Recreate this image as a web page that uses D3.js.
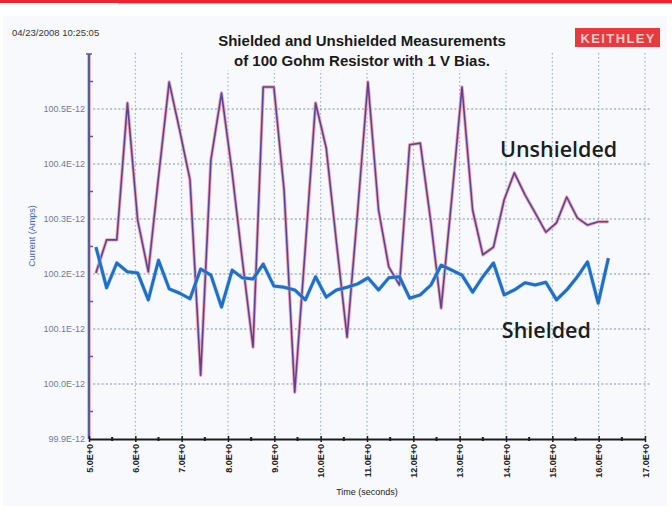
<!DOCTYPE html>
<html>
<head>
<meta charset="utf-8">
<script src="https://cdn.jsdelivr.net/npm/d3@7"></script>
<style>
  html, body { margin: 0; padding: 0; background: #ffffff; }
  svg { display: block; }
</style>
</head>
<body>
<div id="chart"></div>
<script>
// Sample times (seconds)
const times = [5.15, 5.38, 5.60, 5.83, 6.05, 6.28, 6.50, 6.73, 6.96, 7.18,
  7.41, 7.63, 7.86, 8.09, 8.31, 8.54, 8.76, 8.99, 9.21, 9.44,
  9.67, 9.89, 10.12, 10.34, 10.57, 10.80, 11.02, 11.25, 11.47, 11.70,
  11.92, 12.15, 12.38, 12.60, 12.83, 13.05, 13.28, 13.50, 13.73, 13.96,
  14.18, 14.41, 14.63, 14.86, 15.09, 15.31, 15.54, 15.76, 15.99, 16.21];

// Current in units of 1E-12 A
const unshielded = [100.202, 100.262, 100.262, 100.511, 100.298, 100.204, 100.376, 100.549, 100.460, 100.371,
  100.016, 100.407, 100.529, 100.384, 100.225, 100.067, 100.540, 100.540, 100.353, 99.985,
  100.249, 100.511, 100.429, 100.258, 100.085, 100.316, 100.549, 100.316, 100.213, 100.180,
  100.435, 100.438, 100.293, 100.138, 100.338, 100.540, 100.316, 100.235, 100.249, 100.335,
  100.384, 100.344, 100.311, 100.276, 100.293, 100.340, 100.302, 100.289, 100.295, 100.295];

const shielded = [100.249, 100.175, 100.220, 100.204, 100.202, 100.153, 100.225, 100.173, 100.165, 100.155,
  100.209, 100.198, 100.140, 100.207, 100.193, 100.191, 100.218, 100.178, 100.176, 100.171,
  100.153, 100.195, 100.158, 100.171, 100.176, 100.182, 100.193, 100.171, 100.193, 100.195,
  100.156, 100.162, 100.180, 100.216, 100.207, 100.198, 100.167, 100.195, 100.220, 100.162,
  100.171, 100.184, 100.180, 100.185, 100.153, 100.171, 100.195, 100.222, 100.147, 100.229];

const yTicks = [99.9, 100.0, 100.1, 100.2, 100.3, 100.4, 100.5];
const xTicks = [5, 6, 7, 8, 9, 10, 11, 12, 13, 14, 15, 16, 17];

const titleLines = ["Shielded and Unshielded Measurements", "of 100 Gohm Resistor with 1 V Bias."];
const timestamp = "04/23/2008 10:25:05";

const W = 672, H = 517;
const svg = d3.select("#chart").append("svg").attr("width", W).attr("height", H);

// page background and top red rule
svg.append("rect").attr("width", W).attr("height", H).attr("fill", "#ffffff");
svg.append("rect").attr("x", 3).attr("y", 16).attr("width", 664).attr("height", 490).attr("fill", "#f8f9fc");
svg.append("rect").attr("x", 0).attr("y", 0).attr("width", W).attr("height", 3).attr("fill", "#ee2229");
svg.append("rect").attr("x", 118).attr("y", 3).attr("width", W - 118).attr("height", 1).attr("fill", "#f6a5a8");

const x = d3.scaleLinear().domain([5, 17]).range([89, 645]);
const y = d3.scaleLinear().domain([99.9, 100.6]).range([439, 54]);

// grid
const grid = svg.append("g");
grid.selectAll("line.h").data(yTicks.slice(1)).join("line")
  .attr("x1", 89).attr("x2", 650)
  .attr("y1", d => y(d)).attr("y2", d => y(d))
  .attr("stroke", "#7f8fa8").attr("stroke-width", 1.1).attr("stroke-dasharray", "2,2.2");
grid.selectAll("line.v").data(xTicks.slice(1)).join("line")
  .attr("x1", d => x(d)).attr("x2", d => x(d))
  .attr("y1", 53).attr("y2", 439)
  .attr("stroke", "#93adc4").attr("stroke-width", 1.1).attr("stroke-dasharray", "1.5,2.5");

// title block
svg.append("rect").attr("x", 208).attr("y", 28).attr("width", 308).attr("height", 42).attr("fill", "#f8f9fc");
svg.append("g").selectAll("text").data(titleLines).join("text")
  .attr("x", 362).attr("y", (d, i) => 46 + i * 20)
  .attr("text-anchor", "middle")
  .attr("font-family", "Liberation Sans, Arial, sans-serif")
  .attr("font-size", 15).attr("font-weight", "bold").attr("fill", "#1a1a1a")
  .text(d => d);

svg.append("text").attr("x", 12).attr("y", 36)
  .attr("font-family", "Liberation Sans, Arial, sans-serif")
  .attr("font-size", 9.5).attr("fill", "#333").text(timestamp);

// logo
svg.append("rect").attr("x", 575).attr("y", 28).attr("width", 85).attr("height", 19).attr("fill", "#e8393f");
svg.append("text").attr("x", 617.5).attr("y", 42.5).attr("text-anchor", "middle")
  .attr("font-family", "Liberation Sans, Arial, sans-serif").attr("font-weight", "bold")
  .attr("font-size", 13).attr("fill", "#f7c9cb").attr("textLength", 74)
  .attr("lengthAdjust", "spacing").text("KEITHLEY");

// y axis
const yAxisG = svg.append("g").attr("transform", "translate(89,0)");
yAxisG.append("line").attr("y1", 54).attr("y2", 439).attr("stroke", "#f3b4c2").attr("stroke-width", 4);
yAxisG.append("line").attr("y1", 54).attr("y2", 439).attr("stroke", "#4f5ea6").attr("stroke-width", 2);
const yMinor = d3.range(99.95, 100.6, 0.1);
yAxisG.selectAll("line.mn").data(yMinor).join("line")
  .attr("x1", 0).attr("x2", 4).attr("y1", d => y(d)).attr("y2", d => y(d))
  .attr("stroke", "#4f5ea6").attr("stroke-width", 1.5);
yAxisG.append("line").attr("x1", -3).attr("x2", 3).attr("y1", 54).attr("y2", 54)
  .attr("stroke", "#4f5ea6").attr("stroke-width", 1.5);
yAxisG.selectAll("text").data(yTicks).join("text")
  .attr("x", -4).attr("y", d => y(d) + 3)
  .attr("text-anchor", "end")
  .attr("font-family", "Liberation Sans, Arial, sans-serif")
  .attr("font-size", 9).attr("fill", "#707aa0")
  .text(d => d.toFixed(1) + "E-12");
svg.append("text")
  .attr("transform", "translate(35,236) rotate(-90)")
  .attr("text-anchor", "middle")
  .attr("font-family", "Liberation Sans, Arial, sans-serif")
  .attr("font-size", 9).attr("fill", "#3d63b6")
  .text("Current (Amps)");

// x axis
const xAxis = d3.axisBottom(x).tickValues(xTicks).tickSize(0).tickPadding(0)
  .tickFormat(d => d.toFixed(1) + "E+0");
const xAxisG = svg.append("g").attr("transform", "translate(0,439)").call(xAxis);
xAxisG.select(".domain").attr("stroke", "#1c1c1c").attr("stroke-width", 2);
xAxisG.selectAll(".tick text")
  .attr("transform", "rotate(-90)")
  .attr("x", -5).attr("y", 3).attr("dy", null)
  .attr("text-anchor", "end")
  .attr("font-family", "Liberation Sans, Arial, sans-serif")
  .attr("font-size", 9).attr("font-weight", "bold").attr("fill", "#222");
xAxisG.selectAll(".tick").append("line")
  .attr("y1", -3).attr("y2", 3).attr("stroke", "#1c1c1c").attr("stroke-width", 1.5);
xAxisG.selectAll("line.mn").data(d3.range(5.5, 17, 1)).join("line")
  .attr("x1", d => x(d)).attr("x2", d => x(d)).attr("y1", -2).attr("y2", 2)
  .attr("stroke", "#1c1c1c").attr("stroke-width", 2);
svg.append("text").attr("x", 367).attr("y", 495).attr("text-anchor", "middle")
  .attr("font-family", "Liberation Sans, Arial, sans-serif")
  .attr("font-size", 9).attr("fill", "#222").text("Time (seconds)");

// series
const line = d3.line().x((d, i) => x(times[i])).y(d => y(d));
const plot = svg.append("g");
plot.append("path").datum(unshielded).attr("d", line)
  .attr("fill", "none").attr("stroke", "#f0a7b6").attr("stroke-width", 3.4).attr("stroke-linejoin", "round");
plot.append("path").datum(unshielded).attr("d", line)
  .attr("fill", "none").attr("stroke", "#5a4595").attr("stroke-width", 1.6).attr("stroke-linejoin", "round");
plot.append("path").datum(shielded).attr("d", line)
  .attr("fill", "none").attr("stroke", "#9cc3ea").attr("stroke-width", 4.2).attr("stroke-linejoin", "round").attr("opacity", 0.6);
plot.append("path").datum(shielded).attr("d", line)
  .attr("fill", "none").attr("stroke", "#1f6fc6").attr("stroke-width", 3).attr("stroke-linejoin", "round");

// series labels
const seriesLabels = [
  { name: "Unshielded", t: 13.87, v: 100.413 },
  { name: "Shielded", t: 13.91, v: 100.084 }
];
svg.append("g").selectAll("text").data(seriesLabels).join("text")
  .attr("x", d => x(d.t)).attr("y", d => y(d.v))
  .attr("font-family", "Open Sans, sans-serif").attr("font-weight", 600)
  .attr("font-size", 21.5).attr("fill", "#1d1d1d")
  .text(d => d.name);
</script>
</body>
</html>
